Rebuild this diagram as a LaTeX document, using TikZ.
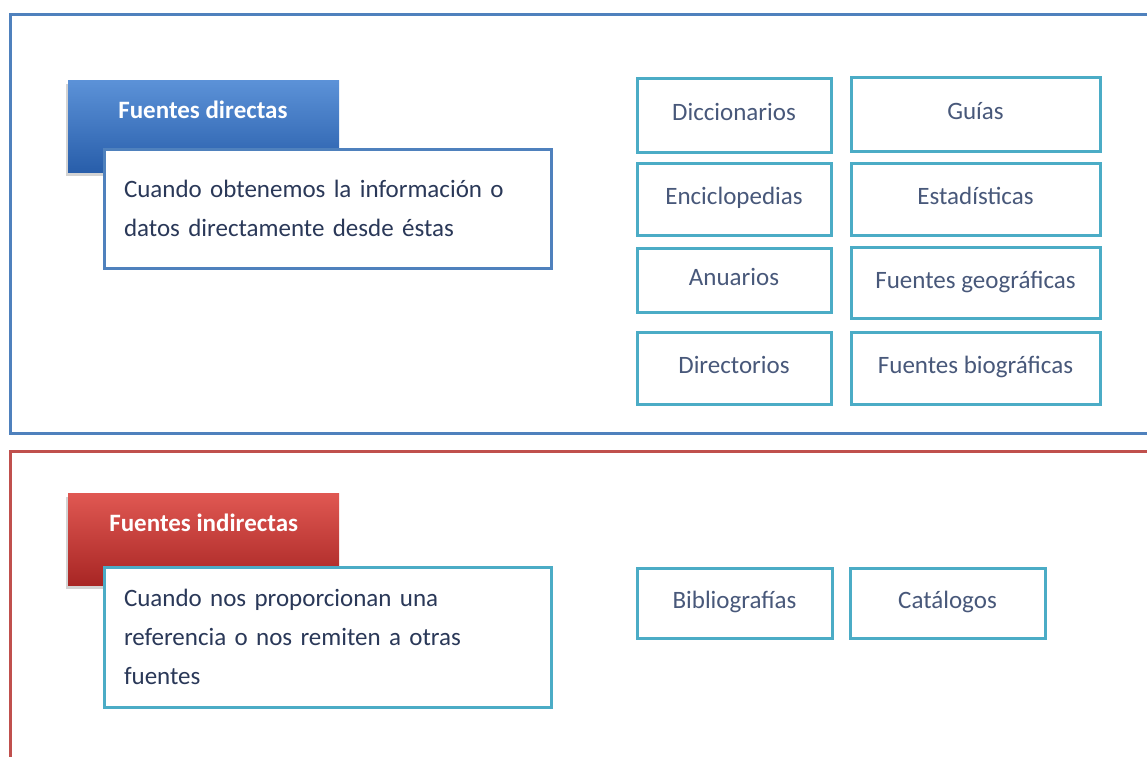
\documentclass[tikz,border=0pt]{standalone}
\usepackage{fontspec}
\setmainfont{Carlito}
\usetikzlibrary{shadows}
\definecolor{frameblue}{RGB}{79,129,189}
\definecolor{framered}{RGB}{192,80,77}
\definecolor{headbluetop}{RGB}{92,146,216}
\definecolor{headbluebot}{RGB}{40,94,170}
\definecolor{headredtop}{RGB}{224,88,82}
\definecolor{headredbot}{RGB}{168,38,36}
\definecolor{itemteal}{RGB}{75,172,198}
\definecolor{itemtext}{RGB}{72,88,122}
\definecolor{desctext}{RGB}{42,56,88}
\tikzset{
  headbox/.style={minimum width=271pt, minimum height=92pt, inner sep=0pt,
    drop shadow={shadow xshift=-2pt, shadow yshift=-4pt, opacity=.35}},
  headtext/.style={anchor=west, text=white, font=\fontsize{25}{28}\selectfont\bfseries},
  descbox/.style={draw, fill=white, line width=3pt, minimum width=447pt,
    text width=407pt, inner xsep=20pt, align=left, text=desctext,
    font=\fontsize{25}{39}\selectfont},
  itembox/.style={draw=itemteal, fill=white, line width=3pt, inner sep=0pt,
    text height=16pt, text depth=6pt,
    text=itemtext, font=\fontsize{25}{28}\selectfont}
}
\begin{document}
\begin{tikzpicture}[x=1pt, y=-1pt]
\useasboundingbox (0,0) rectangle (1147,756);
\clip (0,0) rectangle (1147,756);
% frames
\draw [frameblue, line width=3pt] (10,14) rectangle (1170,433);
\draw [framered, line width=3pt] (10,451) rectangle (1170,780);

% fuentes directas
\node [headbox, top color=headbluetop, bottom color=headbluebot] (directas) at (203.5,126) {};
\node [headtext] (directas-t) at ([xshift=47pt, yshift=16pt]directas.west) {Fuentes directas};
\node [descbox, draw=frameblue, minimum height=119pt] (directas-d) at (327.5,208.5)
  {Cuando obtenemos la información o\\datos directamente desde éstas};

\node [itembox, minimum width=194pt, minimum height=74pt] (dicc) at (734,115) {Diccionarios};
\node [itembox, minimum width=249pt, minimum height=74pt] (guias) at (975.5,114) {Guías};
\node [itembox, minimum width=194pt, minimum height=72pt] (encic) at (734,199) {Enciclopedias};
\node [itembox, minimum width=249pt, minimum height=72pt] (estad) at (975.5,199) {Estadísticas};
\node [itembox, minimum width=194pt, minimum height=64pt] (anuar) at (734,280) {Anuarios};
\node [itembox, minimum width=249pt, minimum height=71pt] (geogr) at (975.5,283) {Fuentes geográficas};
\node [itembox, minimum width=194pt, minimum height=72pt] (direc) at (734,368) {Directorios};
\node [itembox, minimum width=249pt, minimum height=72pt] (biogr) at (975.5,368) {Fuentes biográficas};

% fuentes indirectas
\node [headbox, top color=headredtop, bottom color=headredbot] (indirectas) at (203.5,539) {};
\node [headtext] (indirectas-t) at ([xshift=38pt, yshift=16pt]indirectas.west) {Fuentes indirectas};
\node [descbox, draw=itemteal, minimum height=140pt] (indirectas-d) at (327.5,637)
  {Cuando nos proporcionan una\\referencia o nos remiten a otras\\fuentes};

\node [itembox, minimum width=195pt, minimum height=70pt] (biblio) at (734.5,603) {Bibliografías};
\node [itembox, minimum width=195pt, minimum height=70pt] (catal) at (947.5,603) {Catálogos};
\end{tikzpicture}
\end{document}
